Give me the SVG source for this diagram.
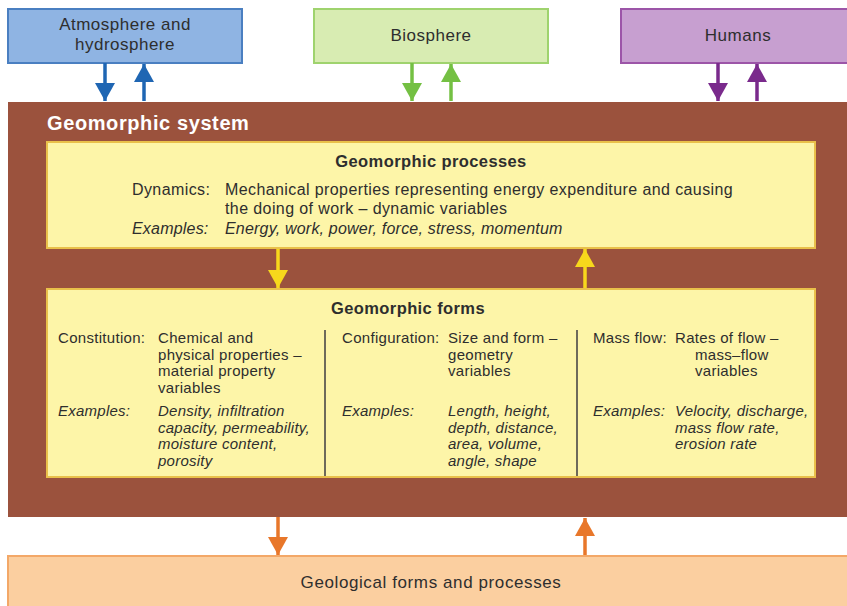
<svg xmlns="http://www.w3.org/2000/svg" width="847" height="606" viewBox="0 0 847 606">
<style>
text{font-family:"Liberation Sans","DejaVu Sans",sans-serif;fill:#2e2e2e}
.top{font-size:17px;letter-spacing:0.5px;text-anchor:middle}
.geo{font-size:17px;letter-spacing:0.6px;text-anchor:middle}
.t{font-size:15px;letter-spacing:0.3px}
.i{font-size:15px;letter-spacing:0.25px;font-style:italic}
.p{font-size:16px;letter-spacing:0.4px}
.pi{font-size:16px;letter-spacing:0.2px;font-style:italic}
.h{font-size:16.5px;letter-spacing:0.4px;font-weight:bold}
.sys{font-size:20px;letter-spacing:0.6px;font-weight:bold;fill:#ffffff}
.yb{fill:#fdf5a8;stroke:#e9c04a;stroke-width:2}
.sep{stroke:#6e6a5a;stroke-width:2}
.conn line{stroke-width:3.5}
</style>
<defs>
<marker id="ab" markerUnits="userSpaceOnUse" markerWidth="20" markerHeight="20" refX="18" refY="10" orient="auto"><path d="M0,0 L18,10 L0,20 z" fill="#1f66b3"/></marker>
<marker id="ag" markerUnits="userSpaceOnUse" markerWidth="20" markerHeight="20" refX="18" refY="10" orient="auto"><path d="M0,0 L18,10 L0,20 z" fill="#74c043"/></marker>
<marker id="ap" markerUnits="userSpaceOnUse" markerWidth="20" markerHeight="20" refX="18" refY="10" orient="auto"><path d="M0,0 L18,10 L0,20 z" fill="#7a2a8c"/></marker>
<marker id="ay" markerUnits="userSpaceOnUse" markerWidth="20" markerHeight="20" refX="18" refY="10" orient="auto"><path d="M0,0 L18,10 L0,20 z" fill="#f7d81c"/></marker>
<marker id="ao" markerUnits="userSpaceOnUse" markerWidth="20" markerHeight="20" refX="18" refY="10" orient="auto"><path d="M0,0 L18,10 L0,20 z" fill="#e8772a"/></marker>
</defs>
<rect width="847" height="606" fill="#ffffff"/>

<g id="atmosphere">
<rect x="8" y="9" width="234" height="54" fill="#8fb4e3" stroke="#4a7fc1" stroke-width="2"/>
<text class="top" x="125" y="30"><tspan x="125">Atmosphere and</tspan><tspan x="125" dy="20">hydrosphere</tspan></text>
</g>
<g id="biosphere">
<rect x="314" y="9" width="234" height="54" fill="#d8ecb2" stroke="#9fd36e" stroke-width="2"/>
<text class="top" x="431" y="41">Biosphere</text>
</g>
<g id="humans">
<rect x="621" y="9" width="232" height="54" fill="#c79fd0" stroke="#9c55a8" stroke-width="2"/>
<text class="top" x="738" y="41">Humans</text>
</g>

<g id="geomorphic-system">
<rect x="8" y="102" width="845" height="415" fill="#9b523d"/>
<text class="sys" x="47" y="130">Geomorphic system</text>
</g>

<g id="processes">
<rect class="yb" x="47" y="142" width="768" height="106"/>
<text class="h" x="431" y="167" text-anchor="middle">Geomorphic processes</text>
<text class="p" x="132" y="195">Dynamics:</text>
<text class="p" x="225" y="195"><tspan x="225">Mechanical properties representing energy expenditure and causing</tspan><tspan x="225" dy="18.5">the doing of work – dynamic variables</tspan></text>
<text class="pi" x="132" y="234">Examples:</text>
<text class="pi" x="225" y="234">Energy, work, power, force, stress, momentum</text>
</g>

<g id="forms">
<rect class="yb" x="47" y="289" width="768" height="188"/>
<text class="h" x="331" y="314">Geomorphic forms</text>
<line class="sep" x1="325" y1="330" x2="325" y2="476"/>
<line class="sep" x1="577" y1="330" x2="577" y2="476"/>
<text class="t" x="58" y="343">Constitution:</text>
<text class="t" x="158" y="343"><tspan x="158">Chemical and</tspan><tspan x="158" dy="16.5">physical properties –</tspan><tspan x="158" dy="16.5">material property</tspan><tspan x="158" dy="16.5">variables</tspan></text>
<text class="i" x="58" y="416">Examples:</text>
<text class="i" x="158" y="416"><tspan x="158">Density, infiltration</tspan><tspan x="158" dy="16.5">capacity, permeability,</tspan><tspan x="158" dy="16.5">moisture content,</tspan><tspan x="158" dy="16.5">porosity</tspan></text>
<text class="t" x="342" y="343">Configuration:</text>
<text class="t" x="448" y="343"><tspan x="448">Size and form –</tspan><tspan x="448" dy="16.5">geometry</tspan><tspan x="448" dy="16.5">variables</tspan></text>
<text class="i" x="342" y="416">Examples:</text>
<text class="i" x="448" y="416"><tspan x="448">Length, height,</tspan><tspan x="448" dy="16.5">depth, distance,</tspan><tspan x="448" dy="16.5">area, volume,</tspan><tspan x="448" dy="16.5">angle, shape</tspan></text>
<text class="t" x="593" y="343">Mass flow:</text>
<text class="t" x="675" y="343"><tspan x="675">Rates of flow –</tspan><tspan x="695" dy="16.5">mass–flow</tspan><tspan x="695" dy="16.5">variables</tspan></text>
<text class="i" x="593" y="416">Examples:</text>
<text class="i" x="675" y="416"><tspan x="675">Velocity, discharge,</tspan><tspan x="675" dy="16.5">mass flow rate,</tspan><tspan x="675" dy="16.5">erosion rate</tspan></text>
</g>

<g id="geological">
<rect x="8" y="556" width="845" height="56" fill="#fbcfa0" stroke="#f3a868" stroke-width="2"/>
<text class="geo" x="431" y="588">Geological forms and processes</text>
</g>

<g id="connectors" class="conn">
<line x1="105" y1="63" x2="105" y2="101" stroke="#1f66b3" marker-end="url(#ab)"/>
<line x1="144" y1="101" x2="144" y2="64" stroke="#1f66b3" marker-end="url(#ab)"/>
<line x1="412" y1="63" x2="412" y2="101" stroke="#74c043" marker-end="url(#ag)"/>
<line x1="451" y1="101" x2="451" y2="64" stroke="#74c043" marker-end="url(#ag)"/>
<line x1="718" y1="63" x2="718" y2="101" stroke="#7a2a8c" marker-end="url(#ap)"/>
<line x1="757" y1="101" x2="757" y2="64" stroke="#7a2a8c" marker-end="url(#ap)"/>
<line x1="278" y1="249" x2="278" y2="288" stroke="#f7d81c" marker-end="url(#ay)"/>
<line x1="585" y1="288" x2="585" y2="249" stroke="#f7d81c" marker-end="url(#ay)"/>
<line x1="278" y1="517" x2="278" y2="555" stroke="#e8772a" marker-end="url(#ao)"/>
<line x1="585" y1="555" x2="585" y2="518" stroke="#e8772a" marker-end="url(#ao)"/>
</g>
</svg>
